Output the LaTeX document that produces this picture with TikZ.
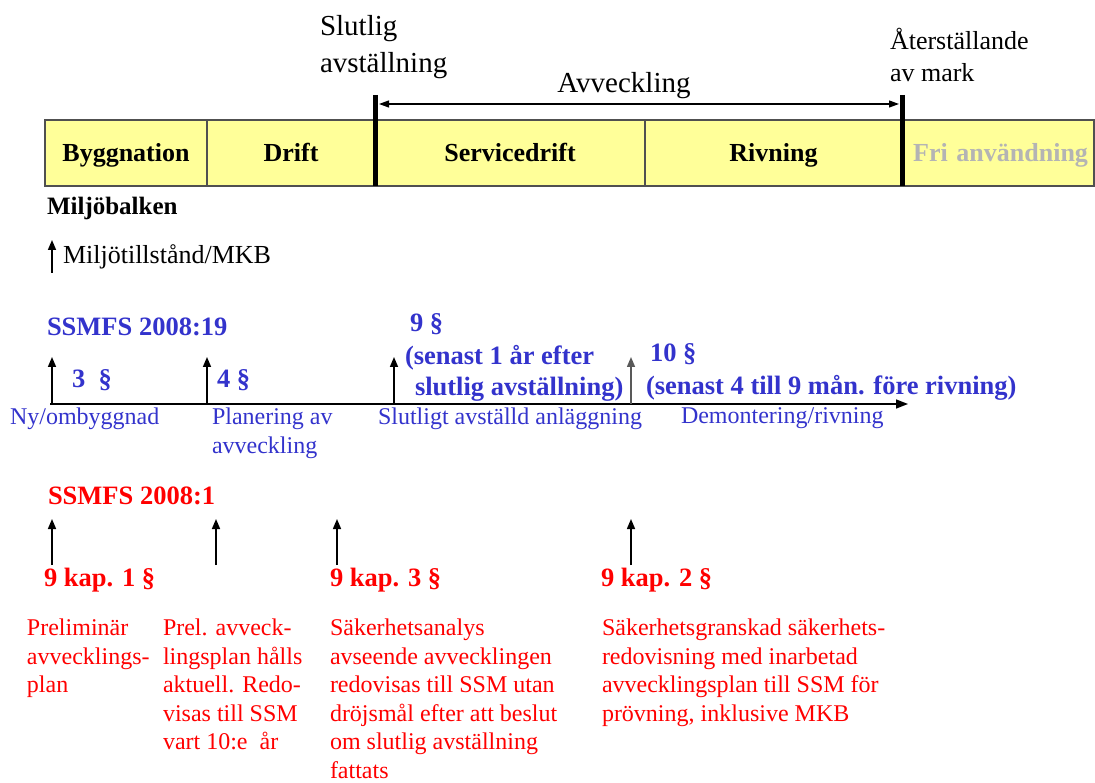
\documentclass[tikz,border=0pt]{standalone}
\usepackage{fontspec}
\setmainfont{Liberation Serif}
\usetikzlibrary{arrows.meta}
\definecolor{barfill}{HTML}{FFFF99}
\definecolor{barline}{HTML}{505050}
\definecolor{ssmblue}{HTML}{3333CC}
\definecolor{ssmred}{HTML}{FF0000}
\definecolor{frigray}{HTML}{B4B4B4}
\begin{document}
\begin{tikzpicture}[x=1pt,y=-1pt,
  every node/.style={inner sep=0pt, outer sep=0pt},
  seg/.style={draw=barline, line width=1.2pt, fill=barfill, minimum height=66pt, anchor=north west,
              text height=22pt, text depth=4pt,
              font=\fontsize{26}{30}\selectfont\bfseries},
  toptxt/.style={font=\fontsize{29}{37}\selectfont, anchor=north west, align=left},
  txt/.style={font=\fontsize{24}{28.5}\selectfont, anchor=north west, align=left},
  btxt/.style={font=\fontsize{26.5}{31}\selectfont\bfseries, anchor=north west, align=left},
  uparrow/.style={line width=1.5pt, -{Triangle[length=10pt,width=8pt]}},
  thickbar/.style={line width=5pt},
  tl/.style={line width=1.5pt, -{Triangle[length=12pt,width=9pt]}}
]
\useasboundingbox (0,0) rectangle (1095,783);

% ---------- phase bar ----------
\node[seg, minimum width=162pt] (s1) at (45,120) {Byggnation};
\node[seg, minimum width=168pt] (s2) at (207,120) {Drift};
\node[seg, minimum width=270pt] (s3) at (375,120) {Servicedrift};
\node[seg, minimum width=257pt] (s4) at (645,120) {Rivning};
\node[seg, minimum width=192pt, text=frigray, text width=180pt, align=right] (s5) at (902,120) {Fri användning};

\coordinate (b1top) at (375,95);
\coordinate (b2top) at (902,95);
\draw[thickbar] (b1top) -- (s3.south west);
\draw[thickbar] (b2top) -- (s5.south west);

\coordinate (av1) at (379,104);
\coordinate (av2) at (899,104);
\draw[line width=1.2pt, {Triangle[length=10pt,width=7pt]}-{Triangle[length=10pt,width=7pt]}] (av1) -- (av2);

\node[toptxt] (slut) at (320,15) {Slutlig\\avställning};
\node[font=\fontsize{29}{34}\selectfont, anchor=north] (avv) at (624,72) {Avveckling};
\node[font=\fontsize{26}{32}\selectfont, anchor=north west, align=left] (ater) at (890,28) {Återställande\\av mark};

% ---------- Miljöbalken ----------
\node[font=\fontsize{25}{30}\selectfont\bfseries, anchor=north west] (mb) at (47,197) {Miljöbalken};
\coordinate (mbb) at (52,273);
\coordinate (mbt) at (52,240);
\draw[uparrow] (mbb) -- (mbt);
\node[font=\fontsize{26}{30}\selectfont, anchor=north west] (mkb) at (63,245) {Miljötillstånd/MKB};

% ---------- SSMFS 2008:19 (blue) ----------
\begin{scope}[text=ssmblue]
\node[btxt] (b19) at (47,318) {SSMFS 2008:19};
\coordinate (tl0) at (50,404);
\coordinate (tl1) at (908,404);
\draw[tl] (tl0) -- (tl1);
\coordinate (ba1) at (52,404);
\coordinate (ba2) at (207,404);
\coordinate (ba3) at (394,404);
\coordinate (ba4) at (631,404);
\foreach \c in {1,2,3} \draw[uparrow] (ba\c) -- ++(0,-47);
\draw[uparrow, draw=gray!70!black] (ba4) -- ++(0,-47);

\node[btxt] (p3) at (72,370) {3~~§};
\node[btxt] (p4) at (217,370) {4 §};
\node[btxt] (p9) at (410,314) {9 §};
\node[btxt] (p9t) at (405,345) {(senast 1 år efter\\\hspace*{10pt}slutlig avställning)};
\node[btxt] (p10) at (650,344) {10 §};
\node[btxt] (p10t) at (646,375) {(senast 4 till 9 mån. före rivning)};

\node[txt] (ny) at (10,408) {Ny/ombyggnad};
\node[txt] (plan) at (212,408) {Planering av\\avveckling};
\node[txt] (slan) at (378,408) {Slutligt avställd anläggning};
\node[txt] (dem) at (681,408) {Demontering/rivning};
\end{scope}

% ---------- SSMFS 2008:1 (red) ----------
\begin{scope}[text=ssmred]
\node[btxt] (b1) at (48,487) {SSMFS 2008:1};
\coordinate (ra1) at (52,565);
\coordinate (ra2) at (216,565);
\coordinate (ra3) at (337,565);
\coordinate (ra4) at (631,565);
\foreach \c in {1,2,3,4} \draw[uparrow] (ra\c) -- ++(0,-46);

\node[btxt] (k1) at (44,568) {9 kap. 1 §};
\node[btxt] (k3) at (330,568) {9 kap. 3 §};
\node[btxt] (k2) at (601,568) {9 kap. 2 §};

\node[txt] (c1) at (27,619) {Preliminär\\avvecklings-\\plan};
\node[txt] (c2) at (163,619) {Prel. avveck-\\lingsplan hålls\\aktuell. Redo-\\visas till SSM\\vart 10:e~~år};
\node[txt] (c3) at (330,619) {Säkerhetsanalys\\avseende avvecklingen\\redovisas till SSM utan\\dröjsmål efter att beslut\\om slutlig avställning\\fattats};
\node[txt] (c4) at (602,619) {Säkerhetsgranskad säkerhets-\\redovisning med inarbetad\\avvecklingsplan till SSM för\\prövning, inklusive MKB};
\end{scope}
\end{tikzpicture}
\end{document}
